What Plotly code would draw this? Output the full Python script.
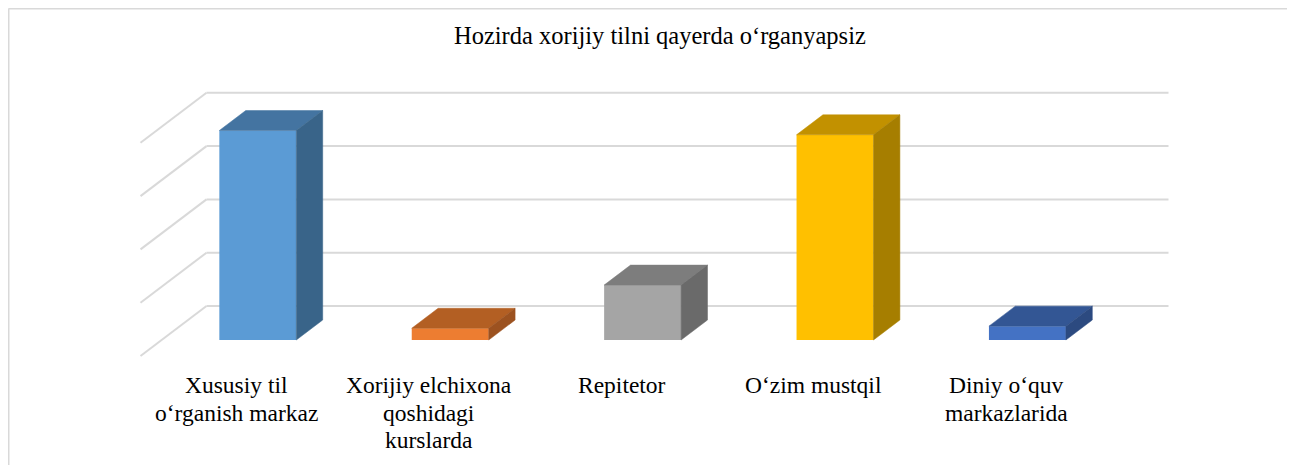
import plotly.graph_objects as go

# ---- data ----
categories = [
    "Xususiy til\no‘rganish markaz",
    "Xorijiy elchixona\nqoshidagi\nkurslarda",
    "Repitetor",
    "O‘zim mustqil",
    "Diniy o‘quv\nmarkazlarida",
]
values = [39.3, 2.2, 10.3, 38.5, 2.6]
grid_values = [0, 10, 20, 30, 40]
title_text = "Hozirda xorijiy tilni qayerda o‘rganyapsiz"

front_colors = ["#5B9BD5", "#ED7D31", "#A5A5A5", "#FFC000", "#4472C4"]
top_colors = ["#4474A1", "#B35F23", "#7D7D7D", "#C29100", "#335694"]
side_colors = ["#396489", "#9C5220", "#6A6A6A", "#A67E00", "#2C4A80"]

# ---- page / geometry (target pixels in the 1295x465 window) ----
OFF = 8                      # page body margin
W_FIG, H_FIG = 1295 - OFF, 465 - OFF
SLOT_PX = 192.4              # px per category
LEFT_PX = 140.5 - OFF        # front-left corner of floor
FLOOR_Y_PX = 356.0 - OFF     # front floor edge (value 0)
UNIT_PX = 5.33               # px per value unit
DX = 66 / SLOT_PX            # depth offset in x units (full depth)
DY = 50 / UNIT_PX            # depth offset in y units (full depth)
DF, DB = 0.32, 0.72          # bar front/back depth fractions
BW = 0.40                    # bar width in category units

x_min = -0.5 - LEFT_PX / SLOT_PX
x_max = -0.5 + (W_FIG - LEFT_PX) / SLOT_PX
y_min = -(H_FIG - FLOOR_Y_PX) / UNIT_PX
y_max = FLOOR_Y_PX / UNIT_PX

SERIF = "Liberation Serif, Times New Roman, serif"
GRID_COLOR = "#D9D9D9"

n = len(categories)
fig = go.Figure()

shapes = []
# gridlines: back wall + side wall diagonals (below traces)
for g in grid_values:
    shapes.append(dict(type="line", xref="x", yref="y", layer="below",
                       x0=-0.5 + DX, x1=n - 0.5 + DX, y0=g + DY, y1=g + DY,
                       line=dict(color=GRID_COLOR, width=2)))
    shapes.append(dict(type="line", xref="x", yref="y", layer="below",
                       x0=-0.5, x1=-0.5 + DX, y0=g, y1=g + DY,
                       line=dict(color=GRID_COLOR, width=2)))

# chart-area border (top and left visible)
shapes.append(dict(type="line", xref="paper", yref="paper",
                   x0=0.5 / W_FIG, x1=1.0, y0=1 - 0.5 / H_FIG, y1=1 - 0.5 / H_FIG,
                   line=dict(color=GRID_COLOR, width=2)))
shapes.append(dict(type="line", xref="paper", yref="paper",
                   x0=0.5 / W_FIG, x1=0.5 / W_FIG, y0=0, y1=1 - 0.5 / H_FIG,
                   line=dict(color=GRID_COLOR, width=2)))

# bars: front face as Bar, top/side faces as filled polygons
for i, v in enumerate(values):
    xl, xr = i - BW / 2, i + BW / 2
    fig.add_trace(go.Bar(
        x=[i + DF * DX], y=[v], base=[DF * DY], width=BW,
        marker=dict(color=front_colors[i], line=dict(width=0)),
        showlegend=False, hoverinfo="skip"))
    fig.add_trace(go.Scatter(
        x=[xl + DF * DX, xr + DF * DX, xr + DB * DX, xl + DB * DX, xl + DF * DX],
        y=[v + DF * DY, v + DF * DY, v + DB * DY, v + DB * DY, v + DF * DY],
        mode="lines", fill="toself", fillcolor=top_colors[i],
        line=dict(color=top_colors[i], width=0.5),
        hoverinfo="skip", showlegend=False))
    fig.add_trace(go.Scatter(
        x=[xr + DF * DX, xr + DB * DX, xr + DB * DX, xr + DF * DX, xr + DF * DX],
        y=[DF * DY, DB * DY, v + DB * DY, v + DF * DY, DF * DY],
        mode="lines", fill="toself", fillcolor=side_colors[i],
        line=dict(color=side_colors[i], width=0.5),
        hoverinfo="skip", showlegend=False))

annotations = [dict(
    text=title_text, x=(660 - OFF) / W_FIG, y=1 - (36 - OFF) / H_FIG,
    xref="paper", yref="paper", showarrow=False,
    xanchor="center", yanchor="middle",
    font=dict(family=SERIF, size=24.5, color="#000000"))]

for i, cat in enumerate(categories):
    for j, line in enumerate(cat.split("\n")):
        annotations.append(dict(
            text=line, x=i, xref="x",
            y=1 - (385 - OFF + 27.7 * j) / H_FIG, yref="paper",
            showarrow=False, xanchor="center", yanchor="middle",
            font=dict(family=SERIF, size=23.5, color="#000000")))

fig.update_layout(
    width=W_FIG, height=H_FIG,
    margin=dict(l=0, r=0, t=0, b=0),
    paper_bgcolor="white", plot_bgcolor="white",
    barmode="overlay",
    xaxis=dict(range=[x_min, x_max], visible=False, fixedrange=True),
    yaxis=dict(range=[y_min, y_max], visible=False, fixedrange=True),
    annotations=annotations, shapes=shapes,
)

fig.write_html("out.html", config={"displayModeBar": False})
